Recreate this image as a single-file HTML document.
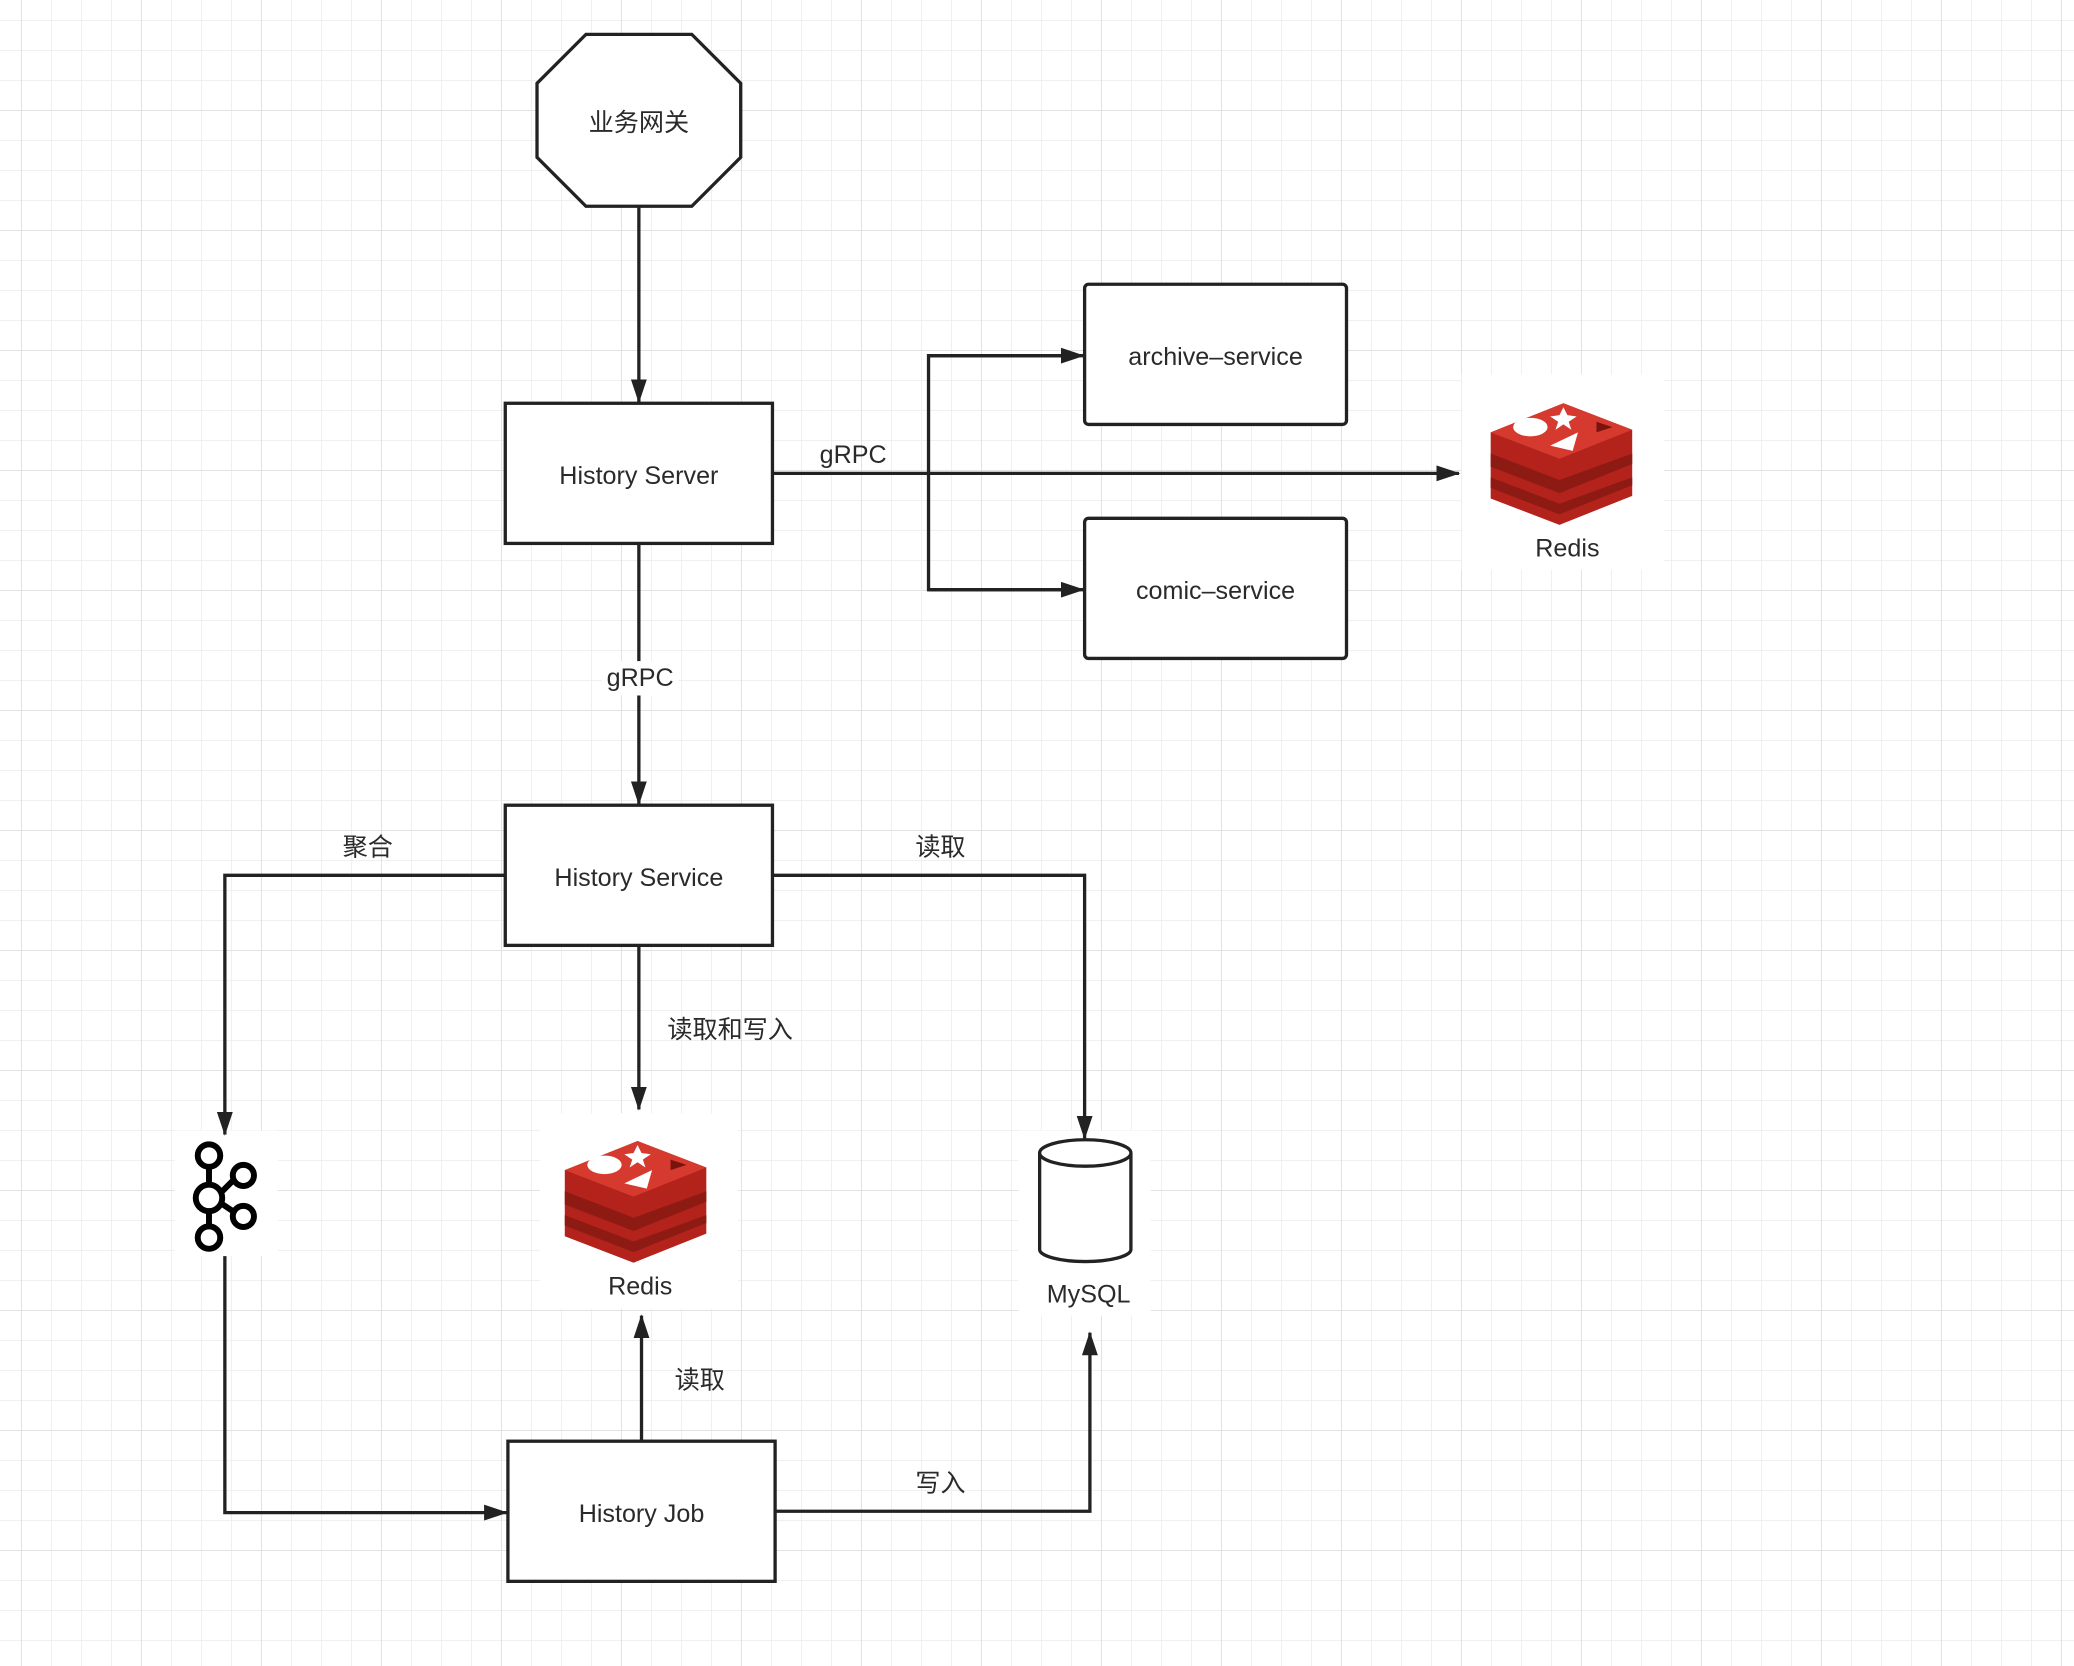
<!DOCTYPE html>
<html><head><meta charset="utf-8"><style>
html,body{margin:0;padding:0;background:#fff;}
svg{display:block;}
text{font-family:"Liberation Sans","Noto Sans CJK SC",sans-serif;fill:#2a2a2a;}
</style></head><body>
<svg width="2074" height="1666" viewBox="0 0 2074 1666" xmlns="http://www.w3.org/2000/svg">
<defs>
<pattern id="minor" x="21" y="20" width="30" height="30" patternUnits="userSpaceOnUse">
<path d="M0 0V30M0 0H30" stroke="#ececec" stroke-width="1.6" fill="none"/>
</pattern>
<pattern id="major" x="21" y="110" width="120" height="120" patternUnits="userSpaceOnUse">
<path d="M0 0V120M0 0H120" stroke="#e0e0e0" stroke-width="1.8" fill="none"/>
</pattern>
<marker id="ar" markerWidth="18" markerHeight="12" refX="17" refY="6" orient="auto" markerUnits="userSpaceOnUse" viewBox="0 0 18 12">
<path d="M0 0L18 6L0 12z" fill="#222"/>
</marker>
<g id="redis">
<path d="M0 24L55 2L107 22L107 72L52 94L0 74z" fill="#b3231c"/>
<path d="M0 24L55 2L107 22L52 44z" fill="#d63a2e"/>
<path d="M0 40L52 60L107 40L107 48L52 70L0 50z" fill="#8e1a14"/>
<path d="M0 58L52 78L107 58L107 64L52 86L0 66z" fill="#8e1a14"/>
<ellipse cx="30" cy="20" rx="13" ry="7" fill="#fff"/>
<path d="M55 5L58 11L65 12L59 16L61 22L55 18L49 22L51 16L45 12L52 11z" fill="#fff"/>
<path d="M45 34L66 24L62 38z" fill="#fff"/>
<path d="M80 16L92 20L80 24z" fill="#7a120e"/>
</g>
</defs>
<rect width="2074" height="1666" fill="url(#minor)"/>
<rect width="2074" height="1666" fill="url(#major)"/>
<g transform="scale(1.3227,1.3222)" stroke="#222" stroke-width="2.5" fill="none">
<rect x="1105" y="283" width="153" height="148" fill="#fff" stroke="none"/>
<rect x="408" y="842" width="150" height="148" fill="#fff" stroke="none"/>
<rect x="132" y="855" width="78" height="95" fill="#fff" stroke="none"/>
<rect x="770" y="855" width="100" height="140" fill="#fff" stroke="none"/>

<polygon points="443,26 523,26 560,63 560,119 523,156 443,156 406,119 406,63" fill="#fff"/>
<rect x="382" y="305" width="202" height="106" fill="#fff"/>
<rect x="820" y="215" width="198" height="106" rx="3" fill="#fff"/>
<rect x="820" y="392" width="198" height="106" rx="3" fill="#fff"/>
<rect x="382" y="609" width="202" height="106" fill="#fff"/>
<rect x="384" y="1090" width="202" height="106" fill="#fff"/>

<path d="M483 156V304" marker-end="url(#ar)"/>
<path d="M584 358H1103" marker-end="url(#ar)"/>
<path d="M810 269H702V446H810" />
<path d="M702 269H819" marker-end="url(#ar)"/>
<path d="M702 446H819" marker-end="url(#ar)"/>
<path d="M483 411V608" marker-end="url(#ar)"/>
<path d="M382 662H170V858" marker-end="url(#ar)"/>
<path d="M584 662H820V861" marker-end="url(#ar)"/>
<path d="M483 715V839" marker-end="url(#ar)"/>
<path d="M170 950V1144H383" marker-end="url(#ar)"/>
<path d="M485 1090V995" marker-end="url(#ar)"/>
<path d="M586 1143H824V1008" marker-end="url(#ar)"/>

<path d="M786 872V945A34 9 0 0 0 855 945V872" fill="#fff"/>
<ellipse cx="820.5" cy="872" rx="34.5" ry="10" fill="#fff"/>

<g stroke="#000" stroke-width="4.5">
<circle cx="158" cy="874" r="8.5"/>
<circle cx="158" cy="906" r="10"/>
<circle cx="158" cy="936" r="8.5"/>
<circle cx="184" cy="889" r="8"/>
<circle cx="184" cy="920" r="8"/>
<path d="M158 883V896M158 916V927M167 902L176 893M167 910L176 916"/>
</g>
</g>
<g transform="scale(1.3227,1.3222)">
<use href="#redis" x="1127" y="303"/>
<use href="#redis" x="427" y="861"/>
<rect x="455" y="500" width="58" height="26" fill="#fff"/>
<g font-size="19" text-anchor="middle">
<text x="483" y="99">业务网关</text>
<text x="483" y="366">History Server</text>
<text x="919" y="276">archive–service</text>
<text x="919" y="453">comic–service</text>
<text x="483" y="670">History Service</text>
<text x="485" y="1151">History Job</text>
<text x="645" y="350">gRPC</text>
<text x="484" y="519">gRPC</text>
<text x="1185" y="421">Redis</text>
<text x="484" y="979">Redis</text>
<text x="823" y="985">MySQL</text>
<text x="278" y="647">聚合</text>
<text x="711" y="647">读取</text>
<text x="552" y="785">读取和写入</text>
<text x="529" y="1050">读取</text>
<text x="711" y="1128">写入</text>
</g>
</g>
</svg>
</body></html>
